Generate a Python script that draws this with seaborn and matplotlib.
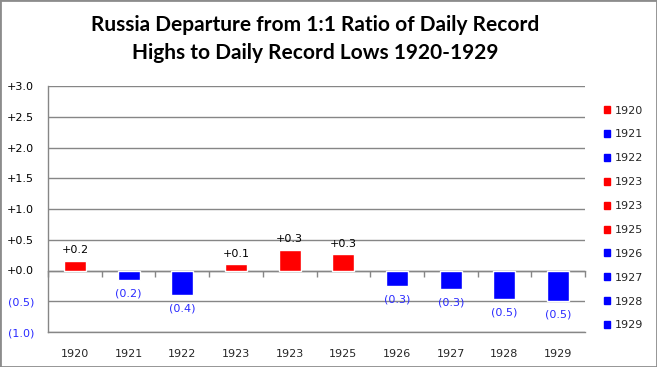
import matplotlib
matplotlib.use("Agg")
import matplotlib.pyplot as plt
from matplotlib.patches import Patch, Rectangle
import seaborn as sns
import pandas as pd

years = ["1920", "1921", "1922", "1923", "1923", "1925", "1926", "1927", "1928", "1929"]
values = [0.16, -0.16, -0.40, 0.10, 0.335, 0.265, -0.26, -0.30, -0.47, -0.50]
yticks = [-1.0, -0.5, 0.0, 0.5, 1.0, 1.5, 2.0, 2.5, 3.0]

RED = "#ff0000"
BLUE = "#0000ff"
LBLUE = "#2a2aff"
GRID = "#868686"

colors = [RED if v >= 0 else BLUE for v in values]
df = pd.DataFrame({"pos": list(range(len(years))), "value": values,
                   "slot": [str(i) for i in range(len(years))]})
palette = {str(i): c for i, c in enumerate(colors)}

sns.set_style("white")
plt.rcParams["font.family"] = ["DejaVu Sans"]

fig = plt.figure(figsize=(6.57, 3.67), dpi=100)
ax = fig.add_axes([48/657, 1-332/367, (585-48)/657, (332-86)/367])

sns.barplot(data=df, x="pos", y="value", hue="slot", palette=palette,
            dodge=False, width=0.41, legend=False, ax=ax, saturation=1)

ax.set_ylim(-1.0, 3.0)
ax.set_xlim(-0.5, len(years) - 0.5)
ax.set_yticks(yticks)
ylabels = []
for t in yticks:
    ylabels.append(f"+{t:.1f}" if t >= 0 else f"({abs(t):.1f})")
ax.set_yticklabels(ylabels, fontsize=8)
for lab, t in zip(ax.get_yticklabels(), yticks):
    lab.set_color("black" if t >= 0 else LBLUE)
ax.tick_params(axis="y", length=0, pad=10)

ax.set_xticks(range(len(years)))
ax.set_xticklabels(years, fontsize=8)
ax.tick_params(axis="x", length=0, pad=12)
ax.set_xlabel("")
ax.set_ylabel("")

for s in ["top", "right"]:
    ax.spines[s].set_visible(False)
for s in ["left", "bottom"]:
    ax.spines[s].set_color(GRID)
    ax.spines[s].set_linewidth(1)
ax.grid(axis="y", color=GRID, linewidth=1)
ax.set_axisbelow(True)

# category axis at zero with tick marks between categories
sec = ax.secondary_xaxis(0.25)
sec.set_xticks([i - 0.5 for i in range(len(years) + 1)])
sec.set_xticklabels([])
sec.tick_params(axis="x", length=4, color=GRID, width=1)
sec.spines["bottom"].set_color(GRID)
sec.spines["bottom"].set_linewidth(1)

# data labels
for i, v in enumerate(values):
    if v >= 0:
        ax.annotate(f"+{v:.1f}", (i, v), xytext=(0, 4), textcoords="offset points",
                    ha="center", va="bottom", fontsize=8, color="black")
    else:
        ax.annotate(f"({abs(v):.1f})", (i, v), xytext=(0, -6), textcoords="offset points",
                    ha="center", va="top", fontsize=8, color=LBLUE)

fig.text(315/657, 1-39/367, "Russia Departure from 1:1 Ratio of Daily Record\nHighs to Daily Record Lows 1920-1929",
         ha="center", va="center", fontsize=15, fontweight="bold", family=["Lato", "DejaVu Sans"],
         linespacing=1.5, color="black")

handles = [Patch(facecolor=c, edgecolor=c) for c in colors]
fig.legend(handles, years, loc="center left", bbox_to_anchor=(598/657, 1-218/367),
           frameon=False, fontsize=8, handlelength=0.6, handleheight=0.6,
           handletextpad=0.4, labelspacing=1.25, borderpad=0)

fig.patches.append(Rectangle((0, 0), 1, 1, transform=fig.transFigure, fill=False,
                             edgecolor="#8c8c8c", linewidth=2))

fig.savefig("out.png", dpi=100)
